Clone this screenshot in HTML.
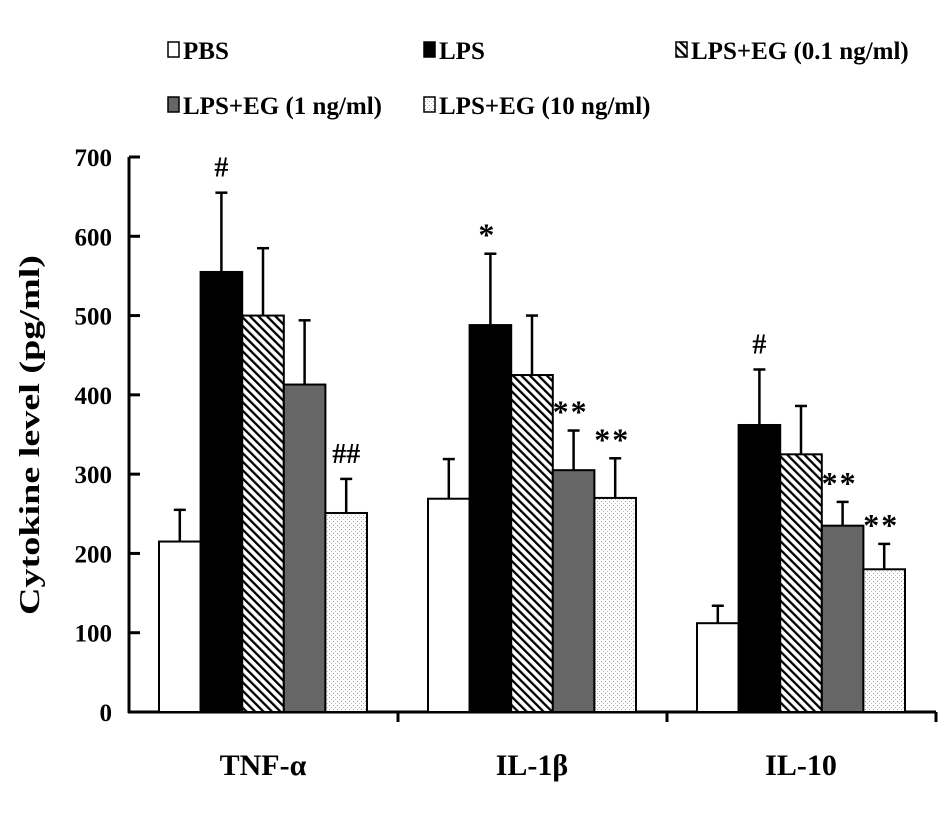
<!DOCTYPE html>
<html><head><meta charset="utf-8"><style>
body{margin:0;background:#fff}
svg text{font-family:"Liberation Serif",serif;font-weight:bold}
</style></head><body>
<svg id="c" width="945" height="827">
<defs>
<pattern id="hatch" width="6" height="6" patternUnits="userSpaceOnUse" patternTransform="rotate(-45)">
<rect width="6" height="6" fill="#fff"/><rect x="0" y="0" width="2.3" height="6" fill="#000"/></pattern>
<pattern id="dots" width="4" height="4" patternUnits="userSpaceOnUse">
<rect width="4" height="4" fill="#fff"/><rect x="1" y="1" width="1" height="1" fill="#999"/><rect x="3" y="3" width="1" height="1" fill="#bbb"/></pattern>
</defs>
</svg>
<script>
const categories=["TNF-α","IL-1β","IL-10"];
const seriesNames=["PBS","LPS","LPS+EG (0.1 ng/ml)","LPS+EG (1 ng/ml)","LPS+EG (10 ng/ml)"];
const pbs=[215,269,112];
const lps=[555,488,362];
const eg01=[500,425,325];
const eg1=[413,305,235];
const eg10=[251,270,180];
const errPbs=[40,50,22];
const errLps=[100,90,70];
const errEg01=[85,75,61];
const errEg1=[81,50,30];
const errEg10=[43,50,32];
const marks=[["","#","","","##"],["","*","","**","**"],["","#","","**","**"]];
const yTicks=[0,100,200,300,400,500,600,700];

const svg=document.getElementById('c');
const NS="http://www.w3.org/2000/svg";
function mk(t,a,p){const e=document.createElementNS(NS,t);for(const k in a)e.setAttribute(k,a[k]);(p||svg).appendChild(e);return e;}
const y=v=>712-v*(555/700);
const gx=i=>159+269*i;
const bw=41.6;
const fills=["#fff","#000","url(#hatch)","#666","url(#dots)"];
const vals=[pbs,lps,eg01,eg1,eg10];
const errs=[errPbs,errLps,errEg01,errEg1,errEg10];

let ax=mk('line',{x1:129,y1:157,x2:129,y2:713,stroke:'#000','stroke-width':3});


let bx=mk('line',{x1:128,y1:712,x2:936,y2:712,stroke:'#000','stroke-width':3});


[398,667,936].forEach(x=>{const t=mk('line',{x1:x,y1:712,x2:x,y2:722,stroke:'#000','stroke-width':3});

});
yTicks.forEach(v=>{
 const t=mk('line',{x1:129,y1:y(v),x2:140,y2:y(v),stroke:'#000','stroke-width':3});
 
 
 const l=mk('text',{x:112,y:y(v)+9,'text-anchor':'end','font-size':25});l.textContent=v;
 
 
});
const yt=mk('text',{x:0,y:0,'font-size':28,'text-anchor':'middle',textLength:360,lengthAdjust:'spacingAndGlyphs',transform:'translate(39,435) rotate(-90)'});
yt.textContent='Cytokine level (pg/ml)';



categories.forEach((c,i)=>{
 const l=mk('text',{x:gx(i)+104,y:775,'text-anchor':'middle','font-size':30});l.textContent=c;
 
 
 for(let s=0;s<5;s++){
  const x=gx(i)+s*bw, v=vals[s][i], e=errs[s][i];
  const top=y(v+e);
  const el=mk('line',{x1:x+bw/2,y1:top,x2:x+bw/2,y2:y(v),stroke:'#000','stroke-width':2.5});
  
  
  const cap=mk('line',{x1:x+bw/2-6,y1:top,x2:x+bw/2+6,y2:top,stroke:'#000','stroke-width':2.5});
  
  
  const r=mk('rect',{x:x,y:y(v),width:bw,height:712-y(v),fill:fills[s],stroke:'#000','stroke-width':2});
  
  
  const m=marks[i][s];
  if(m){const isStar=m.includes('*');
   const t=mk('text',{x:x+bw/2+(isStar?-3:0),y:top-(isStar?8:16),'text-anchor':'middle','font-size':isStar?32:28,'font-weight':'normal','letter-spacing':isStar?2:0});
   t.textContent=m;
   
   }
 }
});

const leg=[[168,50],[424,50],[676,50],[168,105],[424,105]];
seriesNames.forEach((n,s)=>{
 const [lx,ly]=leg[s];
 const b=mk('rect',{x:lx,y:ly-8,width:11,height:15,fill:fills[s],stroke:'#000','stroke-width':1.5});
 
 
 const t=mk('text',{x:lx+15,y:ly+9,'font-size':25});t.textContent=n;
 
 
});
</script>
</body></html>
